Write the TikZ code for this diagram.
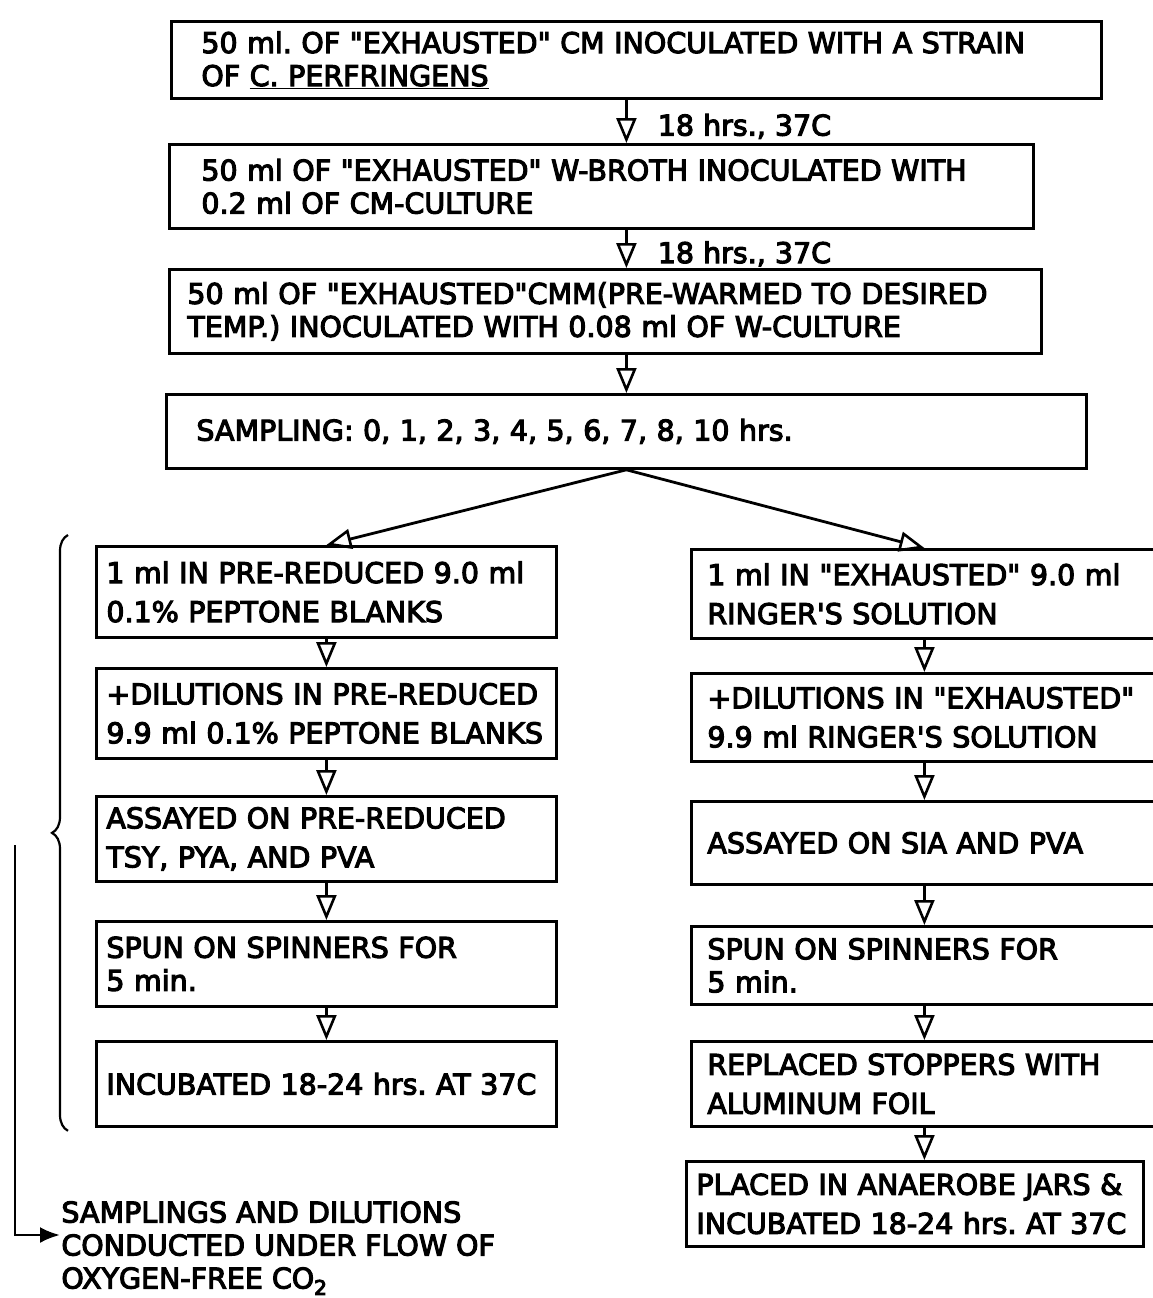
\documentclass[tikz,border=0pt]{standalone}
\usepackage{fontspec}
\usepackage{tikz}
\usetikzlibrary{arrows.meta,decorations.pathreplacing}
\newfontfamily\chartfont{DejaVu Sans}
\newcommand\heavyink{\special{pdf:literal direct 2 Tr 1.1 w}}
\frenchspacing

\begin{document}
\begin{tikzpicture}[x=1pt, y=-1pt, line width=2.8pt,
  stepbox/.style={draw, anchor=north west, align=left, inner ysep=0pt, font=\chartfont\fontsize{28.5}{33}\selectfont, execute at begin node=\heavyink},
  colbox/.style={stepbox, font=\chartfont\fontsize{28.5}{39}\selectfont},
  flow/.style={-{Triangle[open, length=25pt, width=20pt, line width=2.6pt]}},
  lbl/.style={right, inner sep=0pt, font=\chartfont\fontsize{28.5}{33}\selectfont, execute at begin node=\heavyink}]
\useasboundingbox (0,0) rectangle (1152,1298);
% main chain
\node[stepbox, text width=870pt, inner xsep=30pt, minimum height=77pt] (inoc) at (170,20) {50 ml. OF "EXHAUSTED" CM INOCULATED WITH A STRAIN\\OF \underline{C. PERFRINGENS}};
\node[stepbox, text width=800pt, inner xsep=32pt, minimum height=84pt] (broth) at (168,143) {50 ml OF "EXHAUSTED" W-BROTH INOCULATED WITH\\0.2 ml OF CM-CULTURE};
\node[stepbox, text width=836pt, inner xsep=18pt, minimum height=84pt] (cmm) at (168,268) {50 ml OF "EXHAUSTED"CMM(PRE-WARMED TO DESIRED\\TEMP.) INOCULATED WITH 0.08 ml OF W-CULTURE};
\node[stepbox, text width=860pt, inner xsep=30pt, minimum height=74pt] (samp) at (165,393) {SAMPLING: 0, 1, 2, 3, 4, 5, 6, 7, 8, 10 hrs.};
\draw[flow] (inoc.south -| samp.north) -- (broth.north -| samp.north) node[lbl, midway, xshift=30pt, yshift=-5pt] {18 hrs., 37C};
\draw[flow] (broth.south -| samp.north) -- (cmm.north -| samp.north) node[lbl, midway, xshift=30pt, yshift=-5pt] {18 hrs., 37C};
\draw[flow] (cmm.south -| samp.north) -- (samp.north);
% pre-reduced column
\node[colbox, text width=440pt, inner xsep=10pt, minimum height=91pt] (l1) at (95,545) {1 ml IN PRE-REDUCED 9.0 ml\\0.1\% PEPTONE BLANKS};
\node[colbox, text width=440pt, inner xsep=10pt, minimum height=90pt] (l2) at (95,667) {+DILUTIONS IN PRE-REDUCED\\9.9 ml 0.1\% PEPTONE BLANKS};
\node[colbox, text width=440pt, inner xsep=10pt, minimum height=85pt] (l3) at (95,795) {ASSAYED ON PRE-REDUCED\\TSY, PYA, AND PVA};
\node[stepbox, text width=440pt, inner xsep=10pt, minimum height=85pt] (l4) at (95,920) {SPUN ON SPINNERS FOR\\5 min.};
\node[colbox, text width=440pt, inner xsep=10pt, minimum height=85pt] (l5) at (95,1040) {INCUBATED 18-24 hrs. AT 37C};
% exhausted column
\node[colbox, text width=434pt, inner xsep=16pt, minimum height=89pt] (r1) at (690,548) {1 ml IN "EXHAUSTED" 9.0 ml\\RINGER'S SOLUTION};
\node[colbox, text width=434pt, inner xsep=16pt, minimum height=88pt] (r2) at (690,672) {+DILUTIONS IN "EXHAUSTED"\\9.9 ml RINGER'S SOLUTION};
\node[colbox, text width=434pt, inner xsep=16pt, minimum height=83pt] (r3) at (690,800) {ASSAYED ON SIA AND PVA};
\node[stepbox, text width=434pt, inner xsep=16pt, minimum height=78pt] (r4) at (690,925) {SPUN ON SPINNERS FOR\\5 min.};
\node[colbox, text width=434pt, inner xsep=16pt, minimum height=85pt] (r5) at (690,1040) {REPLACED STOPPERS WITH\\ALUMINUM FOIL};
\node[colbox, text width=437pt, inner xsep=10pt, minimum height=85pt] (r6) at (685,1160) {PLACED IN ANAEROBE JARS \&\\INCUBATED 18-24 hrs. AT 37C};
\draw[flow] (samp.south) -- (l1.north);
\draw[flow] (samp.south) -- (r1.north);
\foreach \a/\b in {l1/l2,l2/l3,l3/l4,l4/l5,r1/r2,r2/r3,r3/r4,r4/r5}
  \draw[flow] (\a.south) -- (\b.north);
\draw[flow] (r5.south) -- (r5.south |- r6.north);
% brace and note
\draw[line width=2.2pt, decorate, decoration={brace, amplitude=16pt}] ([xshift=-27pt,yshift=-3pt]l5.south west) -- ([xshift=-27pt,yshift=10pt]l1.north west);
\node[lbl, anchor=west, align=left] (note) at (60,1248) {SAMPLINGS AND DILUTIONS\\CONDUCTED UNDER FLOW OF\\OXYGEN-FREE CO\textsubscript{2}};
\coordinate (flowtop) at (15,845);
\draw[-{Latex[length=20pt, width=16pt]}] (flowtop) |- ([yshift=13pt]note.west);
\end{tikzpicture}
\end{document}
